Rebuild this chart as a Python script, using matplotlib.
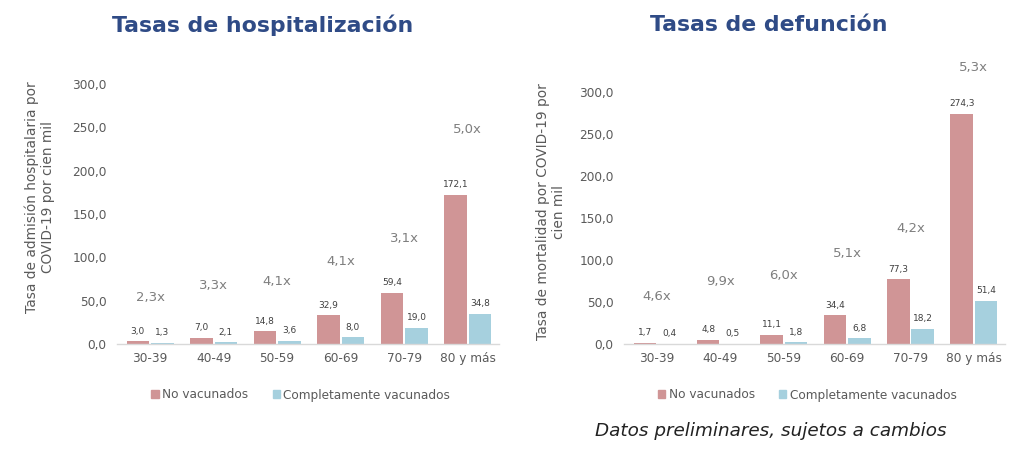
import numpy as np
import matplotlib
matplotlib.use("Agg")
import matplotlib.pyplot as plt
from matplotlib.patches import Patch

plt.rcParams["font.family"] = ["DejaVu Sans"]

# Data
grupos = ["30-39", "40-49", "50-59", "60-69", "70-79", "80 y más"]

hosp_no_vac = [3.0, 7.0, 14.8, 32.9, 59.4, 172.1]
hosp_vac = [1.3, 2.1, 3.6, 8.0, 19.0, 34.8]
hosp_ratio = ["2,3x", "3,3x", "4,1x", "4,1x", "3,1x", "5,0x"]
hosp_ratio_y = [54, 68, 72, 95, 122, 247]

def_no_vac = [1.7, 4.8, 11.1, 34.4, 77.3, 274.3]
def_vac = [0.4, 0.5, 1.8, 6.8, 18.2, 51.4]
def_ratio = ["4,6x", "9,9x", "6,0x", "5,1x", "4,2x", "5,3x"]
def_ratio_y = [56, 75, 81, 108, 138, 329]

y_ticks = [0, 50, 100, 150, 200, 250, 300]

# Styles
c_no = "#d09596"
c_vac = "#a6d0de"
c_title = "#2f4b86"
c_text = "#5a5a5a"
c_ratio = "#7f7f7f"


def fmt(v):
    return f"{v:.1f}".replace(".", ",")


def draw_panel(ax, no_vac, vac, ratios, ratio_y):
    x = np.arange(len(grupos))
    w = 0.355
    ax.bar(x - w / 2 - 0.015, no_vac, w, color=c_no)
    ax.bar(x + w / 2 + 0.015, vac, w, color=c_vac)
    for xi, v in zip(x, no_vac):
        ax.annotate(fmt(v), (xi - w / 2 - 0.015, v), xytext=(0, 4),
                    textcoords="offset points", ha="center", va="bottom",
                    fontsize=6.5, color="#404040")
    for xi, v in zip(x, vac):
        ax.annotate(fmt(v), (xi + w / 2 + 0.015, v), xytext=(0, 4),
                    textcoords="offset points", ha="center", va="bottom",
                    fontsize=6.5, color="#404040")
    for xi, r, ry in zip(x, ratios, ratio_y):
        ax.text(xi, ry, r, ha="center", va="center", fontsize=9.5,
                color=c_ratio, clip_on=False)
    ax.set_xlim(-0.52, 5.49)
    ax.set_ylim(0, 300)
    ax.set_xticks(x)
    ax.set_xticklabels(grupos)
    ax.set_yticks(y_ticks)
    ax.set_yticklabels([fmt(t) for t in y_ticks])
    ax.tick_params(axis="both", length=0, labelsize=8.7, colors=c_text)
    ax.tick_params(axis="y", pad=7.5)
    ax.tick_params(axis="x", pad=6)
    for s in ["top", "right", "left"]:
        ax.spines[s].set_visible(False)
    ax.spines["bottom"].set_color("#d9d9d9")
    ax.spines["bottom"].set_linewidth(1.0)
    ax.patch.set_alpha(0)
    handles = [Patch(color=c_no, label="No vacunados"),
               Patch(color=c_vac, label="Completamente vacunados")]
    pos = ax.get_position()
    ax.legend(handles=handles, loc="center",
              bbox_to_anchor=((pos.x0 + pos.x1) / 2 - 0.007, 1 - 395 / 454),
              bbox_transform=fig.transFigure,
              ncol=2, frameon=False, fontsize=8.7, handlelength=0.6,
              handleheight=0.6, handletextpad=0.3, columnspacing=2.0,
              labelcolor=c_text)


fig = plt.figure(figsize=(10.24, 4.54), dpi=100)

ax1 = fig.add_axes([117 / 1024, 110 / 454, 382 / 1024, 260 / 454])
draw_panel(ax1, hosp_no_vac, hosp_vac, hosp_ratio, hosp_ratio_y)

ax2 = fig.add_axes([624 / 1024, 110 / 454, 381 / 1024, 252 / 454])
draw_panel(ax2, def_no_vac, def_vac, def_ratio, def_ratio_y)

fig.text(40 / 1024, 1 - 197 / 454,
         "Tasa de admisión hospitalaria por\nCOVID-19 por cien mil",
         rotation=90, ha="center", va="center", fontsize=9.9, color=c_text,
         linespacing=1.15)
fig.text(551 / 1024, 1 - 212 / 454,
         "Tasa de mortalidad por COVID-19 por\ncien mil",
         rotation=90, ha="center", va="center", fontsize=9.9, color=c_text,
         linespacing=1.15)

fig.text(263 / 1024, 1 - 25 / 454, "Tasas de hospitalización",
         ha="center", va="center", fontsize=15.8, fontweight="bold",
         color=c_title)
fig.text(769 / 1024, 1 - 25 / 454, "Tasas de defunción",
         ha="center", va="center", fontsize=15.8, fontweight="bold",
         color=c_title)

fig.text(771 / 1024, 1 - 431 / 454, "Datos preliminares, sujetos a cambios",
         ha="center", va="center", fontsize=13.2, style="italic",
         color="#222222")

fig.savefig("out.png", dpi=100)
